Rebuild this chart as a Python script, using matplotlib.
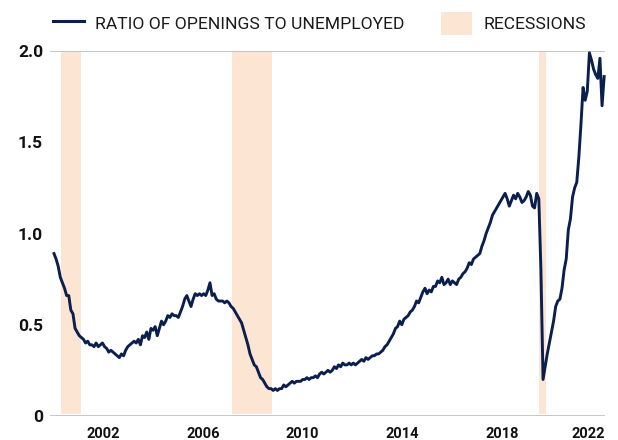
import matplotlib
matplotlib.use("Agg")
import matplotlib.pyplot as plt
from matplotlib import font_manager
from matplotlib.patches import Patch
from matplotlib.lines import Line2D
import numpy as np

# ---------------- data ----------------
first_month = 2000 + 11 / 12  # December 2000
ratio_2000 = [0.89]
ratio_2001 = [0.86, 0.82, 0.76, 0.73, 0.70, 0.66, 0.66, 0.58, 0.56, 0.48, 0.46, 0.44]
ratio_2002 = [0.43, 0.42, 0.40, 0.41, 0.39, 0.39, 0.38, 0.40, 0.38, 0.39, 0.40, 0.38]
ratio_2003 = [0.37, 0.35, 0.36, 0.35, 0.34, 0.33, 0.32, 0.34, 0.33, 0.36, 0.38, 0.39]
ratio_2004 = [0.40, 0.41, 0.40, 0.42, 0.39, 0.44, 0.43, 0.46, 0.42, 0.48, 0.47, 0.49]
ratio_2005 = [0.44, 0.48, 0.52, 0.50, 0.52, 0.55, 0.54, 0.56, 0.55, 0.55, 0.54, 0.57]
ratio_2006 = [0.60, 0.64, 0.66, 0.63, 0.60, 0.64, 0.67, 0.66, 0.67, 0.66, 0.67, 0.66]
ratio_2007 = [0.69, 0.73, 0.66, 0.67, 0.64, 0.63, 0.63, 0.63, 0.62, 0.63, 0.62, 0.60]
ratio_2008 = [0.59, 0.57, 0.55, 0.53, 0.51, 0.47, 0.43, 0.39, 0.34, 0.31, 0.28, 0.27]
ratio_2009 = [0.24, 0.21, 0.20, 0.18, 0.16, 0.15, 0.15, 0.14, 0.15, 0.14, 0.15, 0.15]
ratio_2010 = [0.17, 0.16, 0.17, 0.18, 0.19, 0.18, 0.19, 0.19, 0.19, 0.20, 0.20, 0.21]
ratio_2011 = [0.20, 0.21, 0.21, 0.22, 0.21, 0.23, 0.24, 0.23, 0.24, 0.25, 0.24, 0.25]
ratio_2012 = [0.27, 0.26, 0.28, 0.27, 0.29, 0.28, 0.28, 0.29, 0.28, 0.29, 0.28, 0.29]
ratio_2013 = [0.30, 0.31, 0.30, 0.32, 0.31, 0.32, 0.33, 0.33, 0.34, 0.34, 0.35, 0.36]
ratio_2014 = [0.38, 0.39, 0.41, 0.43, 0.45, 0.48, 0.49, 0.52, 0.50, 0.53, 0.54, 0.55]
ratio_2015 = [0.57, 0.58, 0.60, 0.63, 0.62, 0.65, 0.68, 0.70, 0.67, 0.69, 0.68, 0.71]
ratio_2016 = [0.71, 0.74, 0.73, 0.76, 0.72, 0.73, 0.75, 0.72, 0.74, 0.73, 0.72, 0.75]
ratio_2017 = [0.76, 0.78, 0.79, 0.81, 0.84, 0.83, 0.86, 0.87, 0.88, 0.89, 0.93, 0.96]
ratio_2018 = [1.00, 1.03, 1.06, 1.10, 1.12, 1.14, 1.16, 1.18, 1.20, 1.22, 1.19, 1.15]
ratio_2019 = [1.18, 1.21, 1.19, 1.22, 1.20, 1.17, 1.18, 1.20, 1.23, 1.21, 1.15, 1.14]
ratio_2020 = [1.22, 1.19, 0.80, 0.20, 0.27, 0.34, 0.40, 0.46, 0.52, 0.60, 0.63, 0.64]
ratio_2021 = [0.70, 0.80, 0.86, 1.02, 1.08, 1.20, 1.25, 1.28, 1.42, 1.60, 1.80, 1.73]
ratio_2022 = [1.78, 1.99, 1.95, 1.90, 1.87, 1.85, 1.96, 1.70, 1.86]

recession_start = [2001.19, 2007.96, 2020.09]
recession_end = [2001.98, 2009.53, 2020.37]

ytick_values = [0, 0.5, 1.0, 1.5, 2.0]
ytick_labels = ["0", "0.5", "1.0", "1.5", "2.0"]
xtick_labels = ["2002", "2006", "2010", "2014", "2018", "2022"]
xtick_positions = [2002.85, 2006.81, 2010.73, 2014.68, 2018.64, 2022.04]

series_label = "RATIO OF OPENINGS TO UNEMPLOYED"
recession_label = "RECESSIONS"

ratio = np.array(ratio_2000 + ratio_2001 + ratio_2002 + ratio_2003 + ratio_2004 +
                 ratio_2005 + ratio_2006 + ratio_2007 + ratio_2008 + ratio_2009 +
                 ratio_2010 + ratio_2011 + ratio_2012 + ratio_2013 + ratio_2014 +
                 ratio_2015 + ratio_2016 + ratio_2017 + ratio_2018 + ratio_2019 +
                 ratio_2020 + ratio_2021 + ratio_2022)
months = first_month + np.arange(len(ratio)) / 12.0

# ---------------- fonts ----------------
def has_font(name):
    try:
        font_manager.findfont(name, fallback_to_default=False)
        return True
    except Exception:
        return False

legend_font = "Liberation Sans Narrow" if has_font("Liberation Sans Narrow") else "Roboto"
tick_font = "Roboto"

NAVY = "#0b1f4f"
PEACH = "#fde5d4"
GRID = "#b9bdc7"

fig = plt.figure(figsize=(6.18, 4.40), dpi=100)
ax = fig.add_axes([50 / 618, 24 / 440, 555 / 618, 365 / 440])

for s, e in zip(recession_start, recession_end):
    ax.axvspan(s, e, ymin=0.005, ymax=1.0, color=PEACH, lw=0, zorder=0)

ax.axhline(0, color=GRID, lw=1.2, zorder=1)
ax.axhline(2.0, color=GRID, lw=1.2, zorder=1)

ax.plot(months, ratio, color=NAVY, lw=2.1, zorder=3, clip_on=False,
        solid_joinstyle="round")

ax.set_xlim(2000.759, 2022.70)
ax.set_ylim(0, 2.0)
for sp in ax.spines.values():
    sp.set_visible(False)

ax.set_yticks(ytick_values)
ax.set_yticklabels(ytick_labels, fontfamily=tick_font, fontweight="bold",
                   fontsize=12.5, color="#111111")
ax.set_xticks(xtick_positions)
ax.set_xticklabels(xtick_labels, fontfamily=tick_font, fontweight="bold",
                   fontsize=10.5, color="#111111")
ax.tick_params(axis="both", length=0)
ax.tick_params(axis="y", pad=5)
ax.tick_params(axis="x", pad=8)

handles = [Line2D([0], [0], color=NAVY, lw=2.2),
           Patch(facecolor=PEACH, edgecolor="none")]
leg = fig.legend(handles, [series_label, recession_label], ncol=2,
                 loc="upper left", bbox_to_anchor=(41 / 618, 1.0),
                 frameon=False, handlelength=1.75, handleheight=1.6,
                 handletextpad=0.65, columnspacing=2.1, borderaxespad=0.3,
                 prop={"family": legend_font, "size": 12.6})
for txt in leg.get_texts():
    txt.set_color("#1a1a1a")

fig.savefig("out.png", dpi=100)
